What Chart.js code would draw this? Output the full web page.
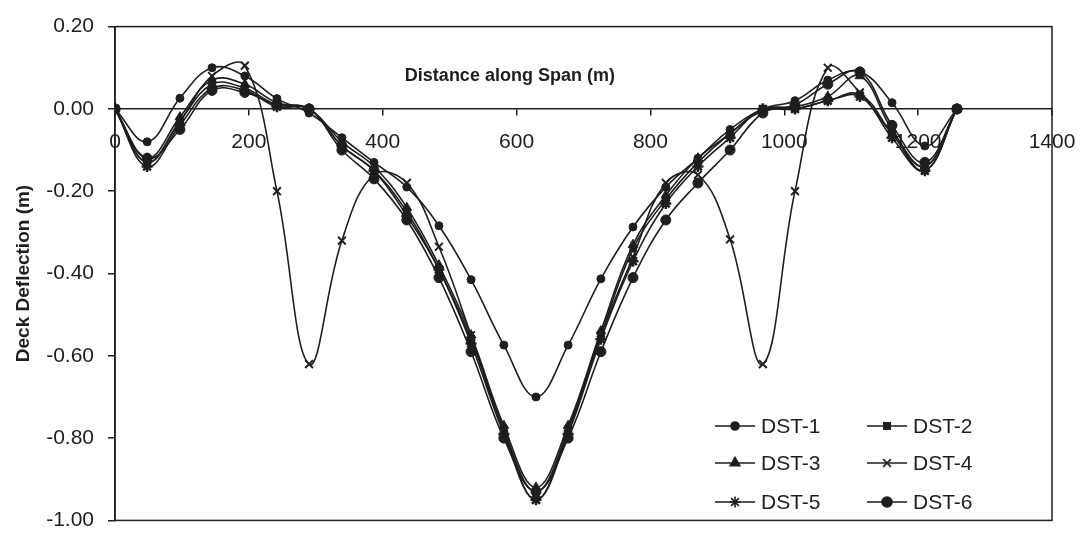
<!DOCTYPE html>
<html>
<head>
<meta charset="utf-8">
<script src="https://cdn.jsdelivr.net/npm/chart.js@4.4.0/dist/chart.umd.min.js"></script>
<style>
  html, body { margin: 0; padding: 0; background: #fff; }
  #wrap { width: 1092px; height: 547px; }
</style>
</head>
<body>
<div id="wrap"><canvas id="myChart" width="1092" height="547"></canvas></div>
<script>
// node positions along the span (m)
var distance = [0, 48, 97, 145, 194, 242, 290, 339, 387, 436, 484, 532, 581, 629,
                677, 726, 774, 823, 871, 919, 968, 1016, 1065, 1113, 1161, 1210, 1258];

// deck deflection (m) for each load case
var dst1 = [0, -0.08, 0.026, 0.10, 0.08, 0.025, -0.01, -0.07, -0.13, -0.19, -0.284, -0.415, -0.574, -0.70,
            -0.574, -0.413, -0.287, -0.19, -0.12, -0.05, 0.0, 0.02, 0.07, 0.09, 0.015, -0.09, 0.0];
var dst2 = [0, -0.13, -0.03, 0.06, 0.05, 0.01, 0.0, -0.09, -0.15, -0.25, -0.39, -0.56, -0.78, -0.93,
            -0.78, -0.55, -0.34, -0.22, -0.13, -0.06, -0.005, 0.0, 0.02, 0.035, -0.06, -0.15, 0.0];
var dst3 = [0, -0.12, -0.02, 0.07, 0.06, 0.015, 0.0, -0.08, -0.14, -0.24, -0.38, -0.55, -0.77, -0.92,
            -0.77, -0.54, -0.33, -0.21, -0.12, -0.06, 0.0, 0.005, 0.03, 0.08, -0.05, -0.14, 0.0];
var dst4 = [0, -0.13, -0.03, 0.08, 0.105, -0.20, -0.62, -0.32, -0.16, -0.18, -0.335, -0.55, -0.78, -0.95,
            -0.78, -0.55, -0.36, -0.18, -0.16, -0.317, -0.62, -0.20, 0.10, 0.04, -0.06, -0.14, 0.0];
var dst5 = [0, -0.14, -0.04, 0.05, 0.045, 0.005, 0.0, -0.09, -0.15, -0.26, -0.39, -0.57, -0.79, -0.95,
            -0.79, -0.56, -0.37, -0.23, -0.14, -0.07, 0.0, 0.0, 0.02, 0.03, -0.07, -0.15, 0.0];
var dst6 = [0, -0.12, -0.05, 0.045, 0.04, 0.01, 0.0, -0.10, -0.17, -0.27, -0.41, -0.59, -0.80, -0.93,
            -0.80, -0.59, -0.41, -0.27, -0.18, -0.10, -0.01, 0.01, 0.06, 0.09, -0.04, -0.13, 0.0];

var seriesNames = ['DST-1', 'DST-2', 'DST-3', 'DST-4', 'DST-5', 'DST-6'];
var seriesValues = [dst1, dst2, dst3, dst4, dst5, dst6];

var xTickValues = [0, 200, 400, 600, 800, 1000, 1200, 1400];
var yTickValues = [0.2, 0, -0.2, -0.4, -0.6, -0.8, -1.0];

var ink = '#1e1e1e';
var font = '"Liberation Sans", Arial, sans-serif';
var markers = [
  { style: 'circle',   radius: 4,   width: 1 },
  { style: 'rect',     radius: 4.5, width: 1 },
  { style: 'triangle', radius: 5.5, width: 1 },
  { style: 'crossRot', radius: 5.5, width: 2 },
  { style: 'star',     radius: 5.5, width: 2.5 },
  { style: 'circle',   radius: 5,   width: 1 }
];

var datasets = seriesNames.map(function (name, k) {
  return {
    label: name,
    data: distance.map(function (d, i) { return { x: d, y: seriesValues[k][i] }; }),
    borderColor: ink,
    backgroundColor: ink,
    borderWidth: 1.6,
    pointStyle: markers[k].style,
    pointRadius: markers[k].radius,
    pointBorderWidth: markers[k].width,
    pointBorderColor: ink,
    pointBackgroundColor: ink,
    tension: 0.4,
    fill: false
  };
});

// box round the plot area
var frame = {
  id: 'frame',
  afterDraw: function (chart) {
    var a = chart.chartArea, c = chart.ctx;
    c.save();
    c.strokeStyle = ink;
    c.lineWidth = 1.5;
    c.strokeRect(a.left, a.top, a.right - a.left, a.bottom - a.top);
    c.restore();
  }
};

// axis caption inside the plot, above the zero line
var spanCaption = {
  id: 'spanCaption',
  afterDraw: function (chart) {
    var c = chart.ctx;
    var x = chart.scales.x.getPixelForValue(590);
    var y = chart.scales.y.getPixelForValue(0.08);
    c.save();
    c.font = 'bold 18px ' + font;
    c.fillStyle = ink;
    c.textAlign = 'center';
    c.textBaseline = 'middle';
    c.fillText('Distance along Span (m)', x, y);
    c.restore();
  }
};

// two-column legend in the lower right corner
var boxLegend = {
  id: 'boxLegend',
  afterDraw: function (chart) {
    var c = chart.ctx;
    var cols = [715, 867];
    var rows = [426, 463, 502];
    c.save();
    c.font = '21px ' + font;
    c.textBaseline = 'middle';
    seriesNames.forEach(function (name, k) {
      var x0 = cols[k % 2], y0 = rows[Math.floor(k / 2)];
      c.strokeStyle = ink;
      c.lineWidth = 1.6;
      c.beginPath();
      c.moveTo(x0, y0);
      c.lineTo(x0 + 40, y0);
      c.stroke();
      c.fillStyle = ink;
      Chart.helpers.drawPoint(c, {
        pointStyle: markers[k].style,
        radius: markers[k].radius,
        borderWidth: markers[k].width,
        rotation: 0
      }, x0 + 20, y0);
      c.fillStyle = ink;
      c.fillText(name, x0 + 46, y0 + 1);
    });
    c.restore();
  }
};

var ctx = document.getElementById('myChart').getContext('2d');
var deflChart = new Chart(ctx, {
  type: 'line',
  data: { datasets: datasets },
  plugins: [frame, spanCaption, boxLegend],
  options: {
    responsive: false,
    animation: false,
    devicePixelRatio: 1,
    layout: { padding: { left: 0, top: 22, right: 40, bottom: 10 } },
    plugins: {
      legend: { display: false },
      tooltip: { enabled: false }
    },
    scales: {
      x: {
        type: 'linear',
        position: { y: 0 },
        min: 0,
        max: 1400,
        afterBuildTicks: function (scale) {
          scale.ticks = xTickValues.map(function (v) { return { value: v }; });
        },
        ticks: {
          color: ink,
          font: { family: font, size: 21 },
          padding: 15,
          maxRotation: 0,
          autoSkip: false,
          callback: function (v) { return String(v); }
        },
        grid: { drawOnChartArea: false, tickLength: 6, color: ink, lineWidth: 1.5 },
        border: { display: true, color: ink, width: 1.5 }
      },
      y: {
        min: -1.0,
        max: 0.2,
        afterBuildTicks: function (scale) {
          scale.ticks = yTickValues.map(function (v) { return { value: v }; });
        },
        afterFit: function (scale) { scale.width = 115; },
        ticks: {
          color: ink,
          font: { family: font, size: 21 },
          padding: 14,
          callback: function (v) { return Number(v).toFixed(2); }
        },
        grid: { drawOnChartArea: false, tickLength: 7, color: ink, lineWidth: 1.5 },
        border: { display: true, color: ink, width: 1.5 },
        title: {
          display: true,
          text: 'Deck Deflection (m)',
          color: ink,
          font: { family: font, size: 19, weight: 'bold' },
          padding: { top: 12, bottom: 0 }
        }
      }
    }
  }
});
</script>
</body>
</html>
